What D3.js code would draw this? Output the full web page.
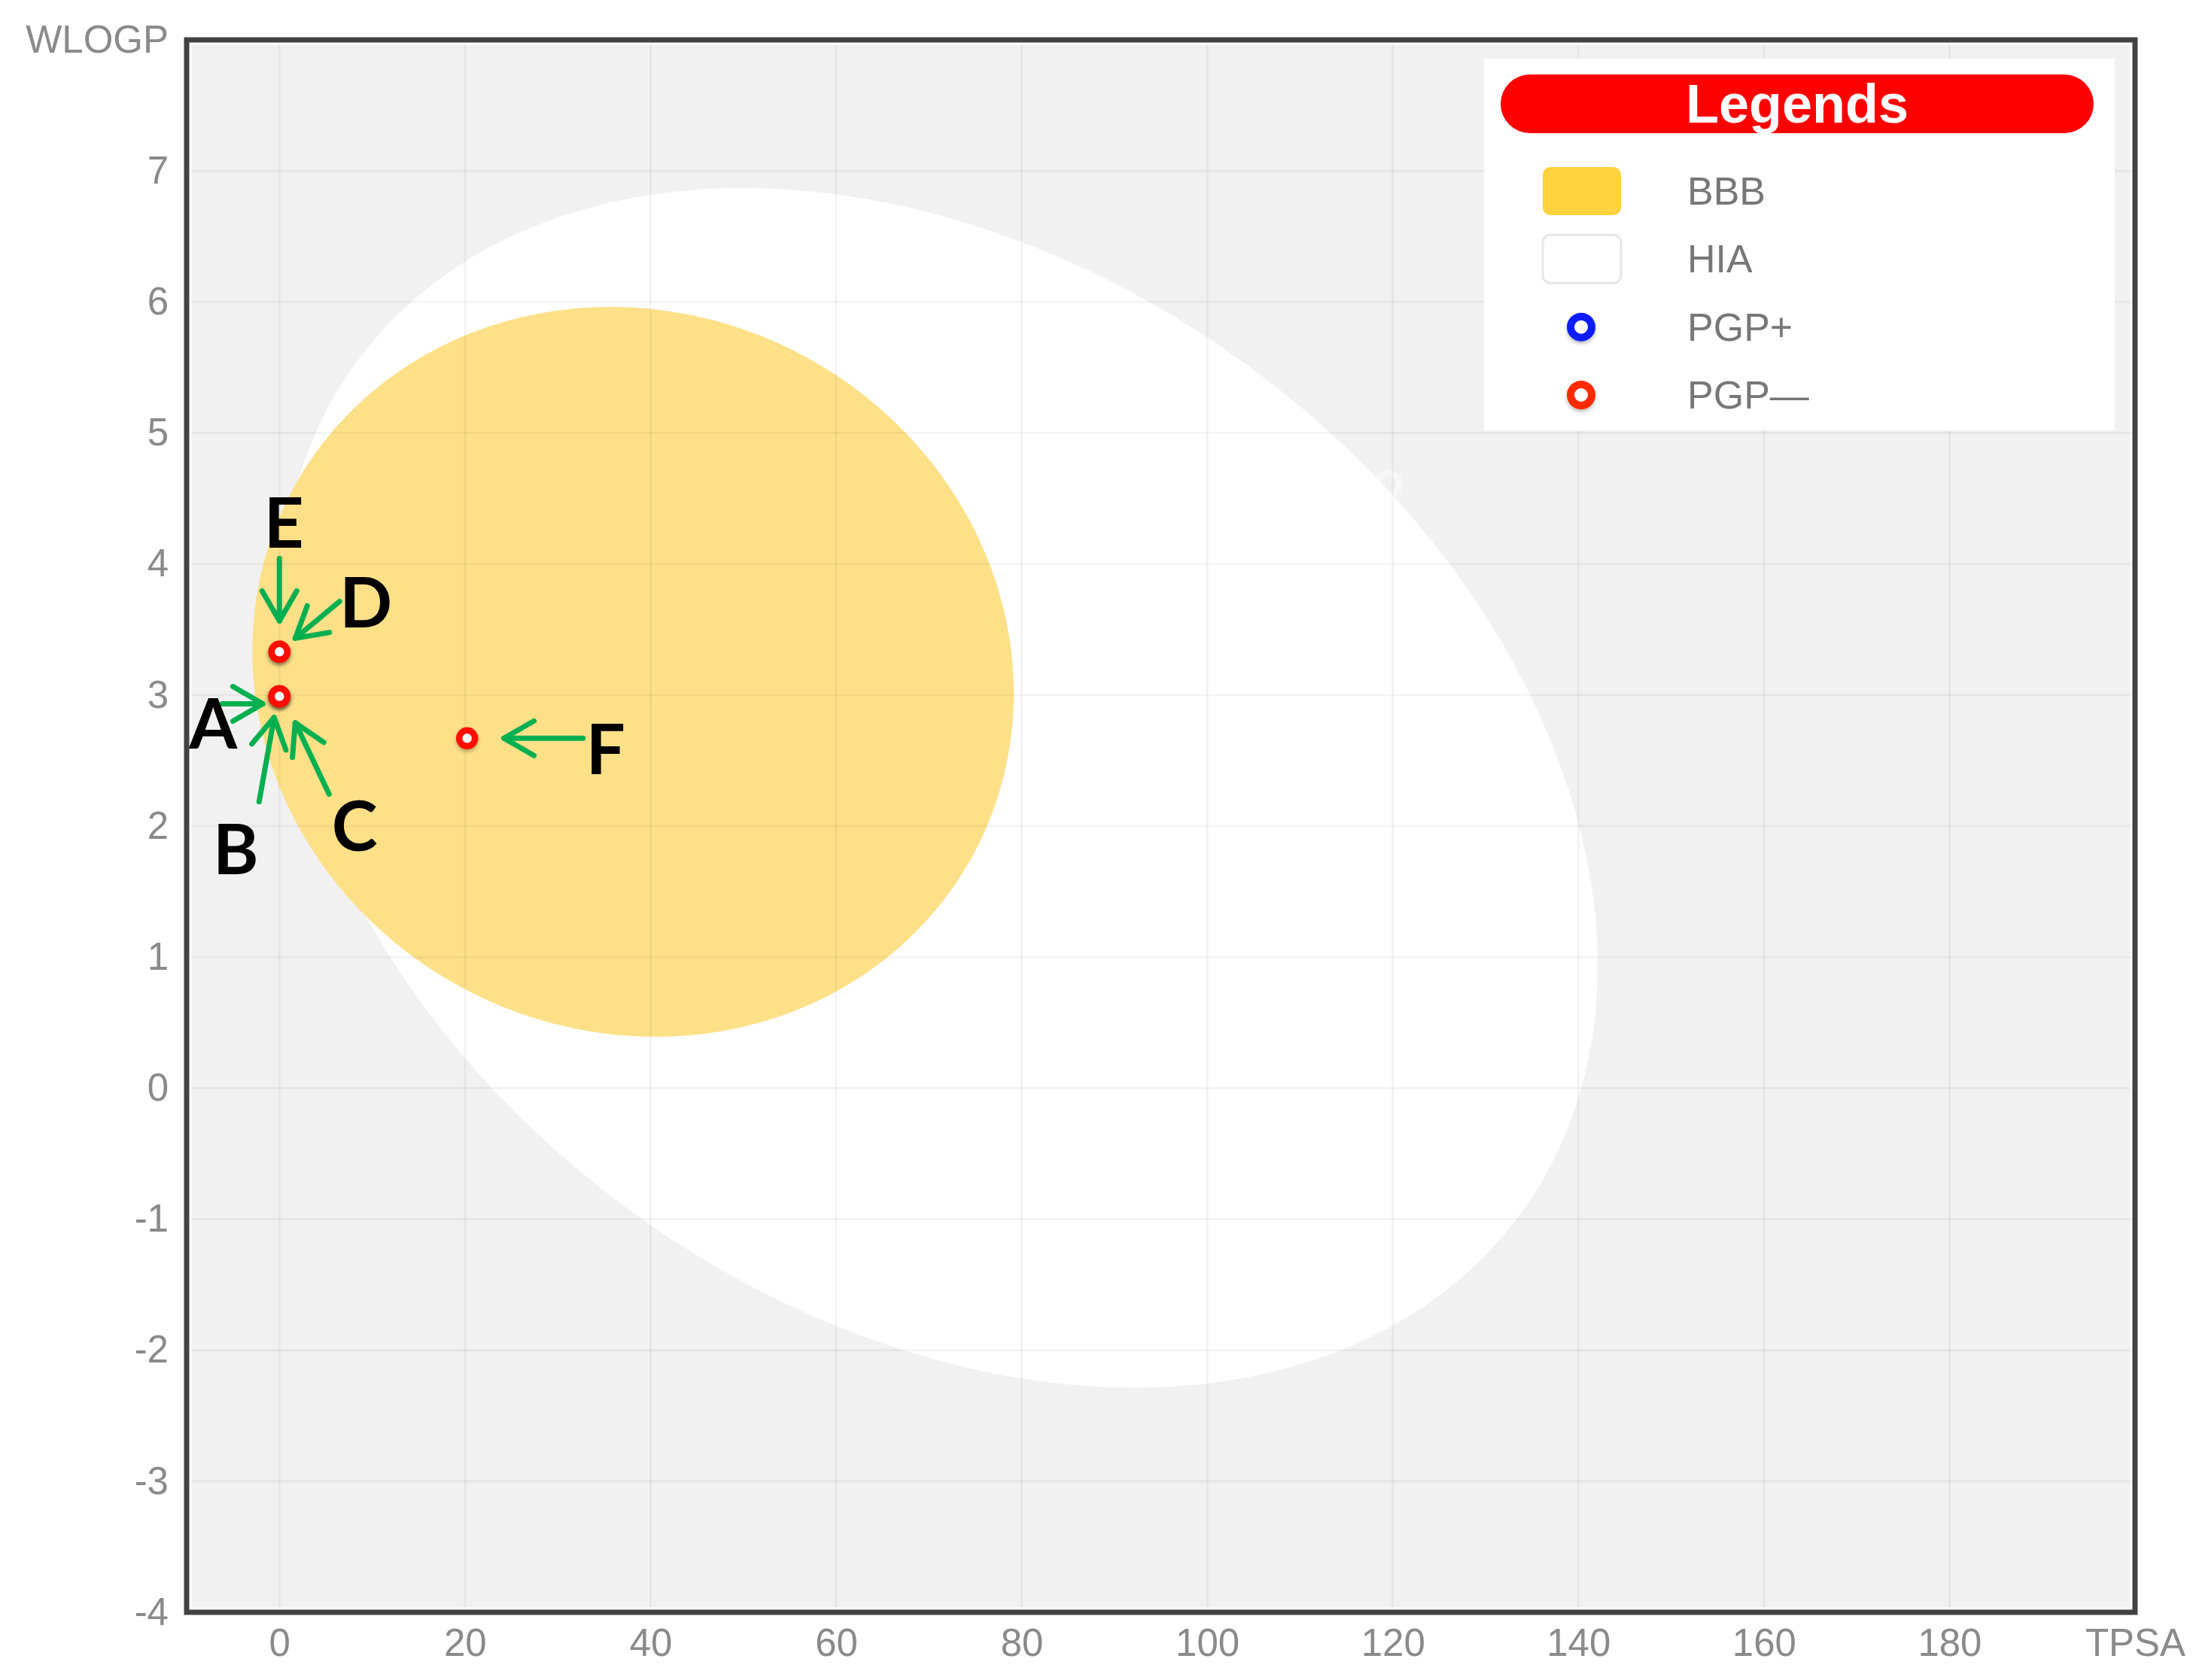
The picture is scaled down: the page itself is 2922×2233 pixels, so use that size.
<!DOCTYPE html>
<html><head><meta charset="utf-8">
<script src="https://cdn.jsdelivr.net/npm/d3@7"></script>
<style>
body{margin:0;background:#fff;}
svg{display:block;font-family:"Liberation Sans",Arial,sans-serif;}
</style>
</head><body>
<svg id="chart" width="2922" height="2233"></svg>
<script>
// ---------- data ----------
const compounds = ["A", "B", "C", "D", "E", "F"];
const tpsa      = [0, 0, 0, 0, 0, 20.23];
const wlogp     = [2.99, 2.99, 2.99, 3.33, 3.33, 2.67];
const pgp       = ["PGP—", "PGP—", "PGP—", "PGP—", "PGP—", "PGP—"];

const xTicks = [0, 20, 40, 60, 80, 100, 120, 140, 160, 180, 200];
const yTicks = [-4, -3, -2, -1, 0, 1, 2, 3, 4, 5, 6, 7, 8];
const xTitle = "TPSA";
const yTitle = "WLOGP";

// BOILED-Egg regions (data units): centre, semi-axes, rotation (deg)
const regionNames = ["HIA", "BBB"];
const regionCx    = [71.051, 38.117];
const regionCy    = [2.292, 3.177];
const regionA     = [71.04, 41.03];
const regionB     = [4.37, 2.78];
const regionAngle = [-1.1, -0.23];

const legendLabels = ["BBB", "HIA", "PGP+", "PGP—"];
const legendTitle = "Legends";

// ---------- layout ----------
const W = 2922, H = 2233;
const L = 248, R = 2837, T = 53, B = 2143;
const svg = d3.select("#chart");

const x = d3.scaleLinear().domain([-10, 200]).range([L, R]);
const y = d3.scaleLinear().domain([-4, 8]).range([B, T]);

const defs = svg.append("defs");
defs.append("clipPath").attr("id", "plotclip")
  .append("rect").attr("x", L).attr("y", T).attr("width", R - L).attr("height", B - T);
const sh = defs.append("filter").attr("id", "shadow").attr("x", "-50%").attr("y", "-50%").attr("width", "200%").attr("height", "200%");
sh.append("feDropShadow").attr("dx", 0).attr("dy", 3).attr("stdDeviation", 2.5)
  .attr("flood-color", "#000").attr("flood-opacity", 0.28);

// plot background
svg.append("rect").attr("x", L).attr("y", T).attr("width", R - L).attr("height", B - T).attr("fill", "#f1f1f1");

// ellipses
const regionColor = {HIA: "#ffffff", BBB: "#fde088"};
const plot = svg.append("g").attr("clip-path", "url(#plotclip)");
function ellipsePts(i) {
  const th = regionAngle[i] * Math.PI / 180;
  return d3.range(0, 361).map(k => {
    const t = k * Math.PI / 180;
    const ex = regionA[i] * Math.cos(t), ey = regionB[i] * Math.sin(t);
    return [regionCx[i] + ex * Math.cos(th) - ey * Math.sin(th),
            regionCy[i] + ex * Math.sin(th) + ey * Math.cos(th)];
  });
}
const line = d3.line().x(d => x(d[0])).y(d => y(d[1])).curve(d3.curveLinearClosed);
regionNames.forEach((n, i) => {
  plot.append("path").attr("d", line(ellipsePts(i))).attr("fill", regionColor[n]);
});

// faint ghost marker
plot.append("circle").attr("cx", x(119.5)).attr("cy", y(4.61)).attr("r", 15)
  .attr("fill", "none").attr("stroke", "#ffffff").attr("stroke-width", 9).attr("opacity", 0.45);

// gridlines on top (faint)
plot.append("g").selectAll("line").data(xTicks.filter(d => d < 200)).join("line")
  .attr("x1", d => x(d)).attr("x2", d => x(d)).attr("y1", T).attr("y2", B)
  .attr("stroke", "rgba(0,0,0,0.045)").attr("stroke-width", 3);
plot.append("g").selectAll("line").data(yTicks.filter(d => d > -4 && d < 8)).join("line")
  .attr("y1", d => y(d)).attr("y2", d => y(d)).attr("x1", L).attr("x2", R)
  .attr("stroke", "rgba(0,0,0,0.045)").attr("stroke-width", 3);

// frame
svg.append("rect").attr("x", L + 5).attr("y", T + 5).attr("width", R - L - 10).attr("height", B - T - 10)
  .attr("fill", "none").attr("stroke", "#ffffff").attr("stroke-width", 3).attr("opacity", 0.8);
svg.append("rect").attr("x", L).attr("y", T).attr("width", R - L).attr("height", B - T)
  .attr("fill", "none").attr("stroke", "#424242").attr("stroke-width", 7);

// axes
const xAxis = d3.axisBottom(x).tickValues(xTicks).tickSize(0).tickPadding(22)
  .tickFormat(d => d === 200 ? xTitle : d);
const yAxis = d3.axisLeft(y).tickValues(yTicks).tickSize(0).tickPadding(24)
  .tickFormat(d => d === 8 ? yTitle : d);
const gx = svg.append("g").attr("transform", `translate(0,${B})`).call(xAxis);
const gy = svg.append("g").attr("transform", `translate(${L},0)`).call(yAxis);
[gx, gy].forEach(g => {
  g.select(".domain").remove();
  g.selectAll("text").attr("font-size", 51).attr("fill", "#8a8a8a")
    .attr("font-family", "'Liberation Sans', Arial, sans-serif");
});

// points
const pgpColor = {"PGP+": "#1020ff", "PGP—": "#ff1000"};
svg.append("g").selectAll("circle").data(compounds).join("circle")
  .attr("cx", (d, i) => x(tpsa[i])).attr("cy", (d, i) => y(wlogp[i])).attr("r", 10.5)
  .attr("fill", "#ffffff").attr("stroke", (d, i) => pgpColor[pgp[i]]).attr("stroke-width", 8.5)
  .attr("filter", "url(#shadow)");

// annotations (label offset and arrow from/to offsets, px relative to the compound's point)
const ann = {
  A: {lab: [-88, 34],  from: [-76, 10],  to: [-22, 10]},
  B: {lab: [-58, 201], from: [-27, 140], to: [-7, 28]},
  C: {lab: [100, 170], from: [66, 130],  to: [21, 35]},
  D: {lab: [115, -68], from: [80, -67],  to: [21, -18]},
  E: {lab: [6, -174],  from: [0, -124],  to: [0, -41]},
  F: {lab: [184, 12],  from: [154, 0],   to: [49, 0]}
};
const ag = svg.append("g");
compounds.forEach((c, i) => {
  const px = x(tpsa[i]), py = y(wlogp[i]);
  const a = ann[c];
  const x1 = px + a.from[0], y1 = py + a.from[1], x2 = px + a.to[0], y2 = py + a.to[1];
  const ang = Math.atan2(y2 - y1, x2 - x1);
  const hl = 46, ha = 30 * Math.PI / 180;
  const g = ag.append("g").attr("fill", "none").attr("stroke", "#00b050").attr("stroke-width", 7)
    .attr("stroke-linecap", "round").attr("stroke-linejoin", "round");
  g.append("line").attr("x1", x1).attr("y1", y1).attr("x2", x2).attr("y2", y2);
  g.append("path").attr("d", d3.line()([
    [x2 - hl * Math.cos(ang - ha), y2 - hl * Math.sin(ang - ha)],
    [x2, y2],
    [x2 - hl * Math.cos(ang + ha), y2 - hl * Math.sin(ang + ha)]
  ]));
  ag.append("text").attr("x", px + a.lab[0]).attr("y", py + a.lab[1])
    .attr("text-anchor", "middle").attr("dominant-baseline", "central")
    .attr("font-family", "Lato, 'Open Sans', sans-serif").attr("font-weight", 700)
    .attr("font-size", 92).attr("fill", "#000").text(c);
});

// legend
const lg = svg.append("g");
lg.append("rect").attr("x", 1972).attr("y", 78).attr("width", 838).attr("height", 494).attr("fill", "#ffffff");
lg.append("rect").attr("x", 1994).attr("y", 99).attr("width", 788).attr("height", 78).attr("rx", 39)
  .attr("fill", "#ff0000");
lg.append("text").attr("x", 2388).attr("y", 138).attr("text-anchor", "middle").attr("dominant-baseline", "central")
  .attr("font-size", 72).attr("font-weight", 700).attr("fill", "#ffffff").text(legendTitle);
const rowY = d3.scalePoint().domain(legendLabels).range([254, 525]);
const swatchFill = {BBB: "#fdd23f", HIA: "#ffffff"};
legendLabels.forEach(l => {
  const cy = rowY(l);
  if (swatchFill[l]) {
    lg.append("rect").attr("x", 2050).attr("y", cy - 32).attr("width", 104).attr("height", 64).attr("rx", 10)
      .attr("fill", swatchFill[l]).attr("stroke", l === "HIA" ? "#e6e6e6" : "none").attr("stroke-width", 3);
  } else {
    lg.append("circle").attr("cx", 2101).attr("cy", cy).attr("r", 14).attr("fill", "#ffffff")
      .attr("stroke", l === "PGP+" ? "#0a1eff" : "#ff2a00").attr("stroke-width", 10).attr("filter", "url(#shadow)");
  }
  lg.append("text").attr("x", 2242).attr("y", cy).attr("dominant-baseline", "central")
    .attr("font-size", 52).attr("fill", "#777777").text(l);
});
</script>
</body></html>
